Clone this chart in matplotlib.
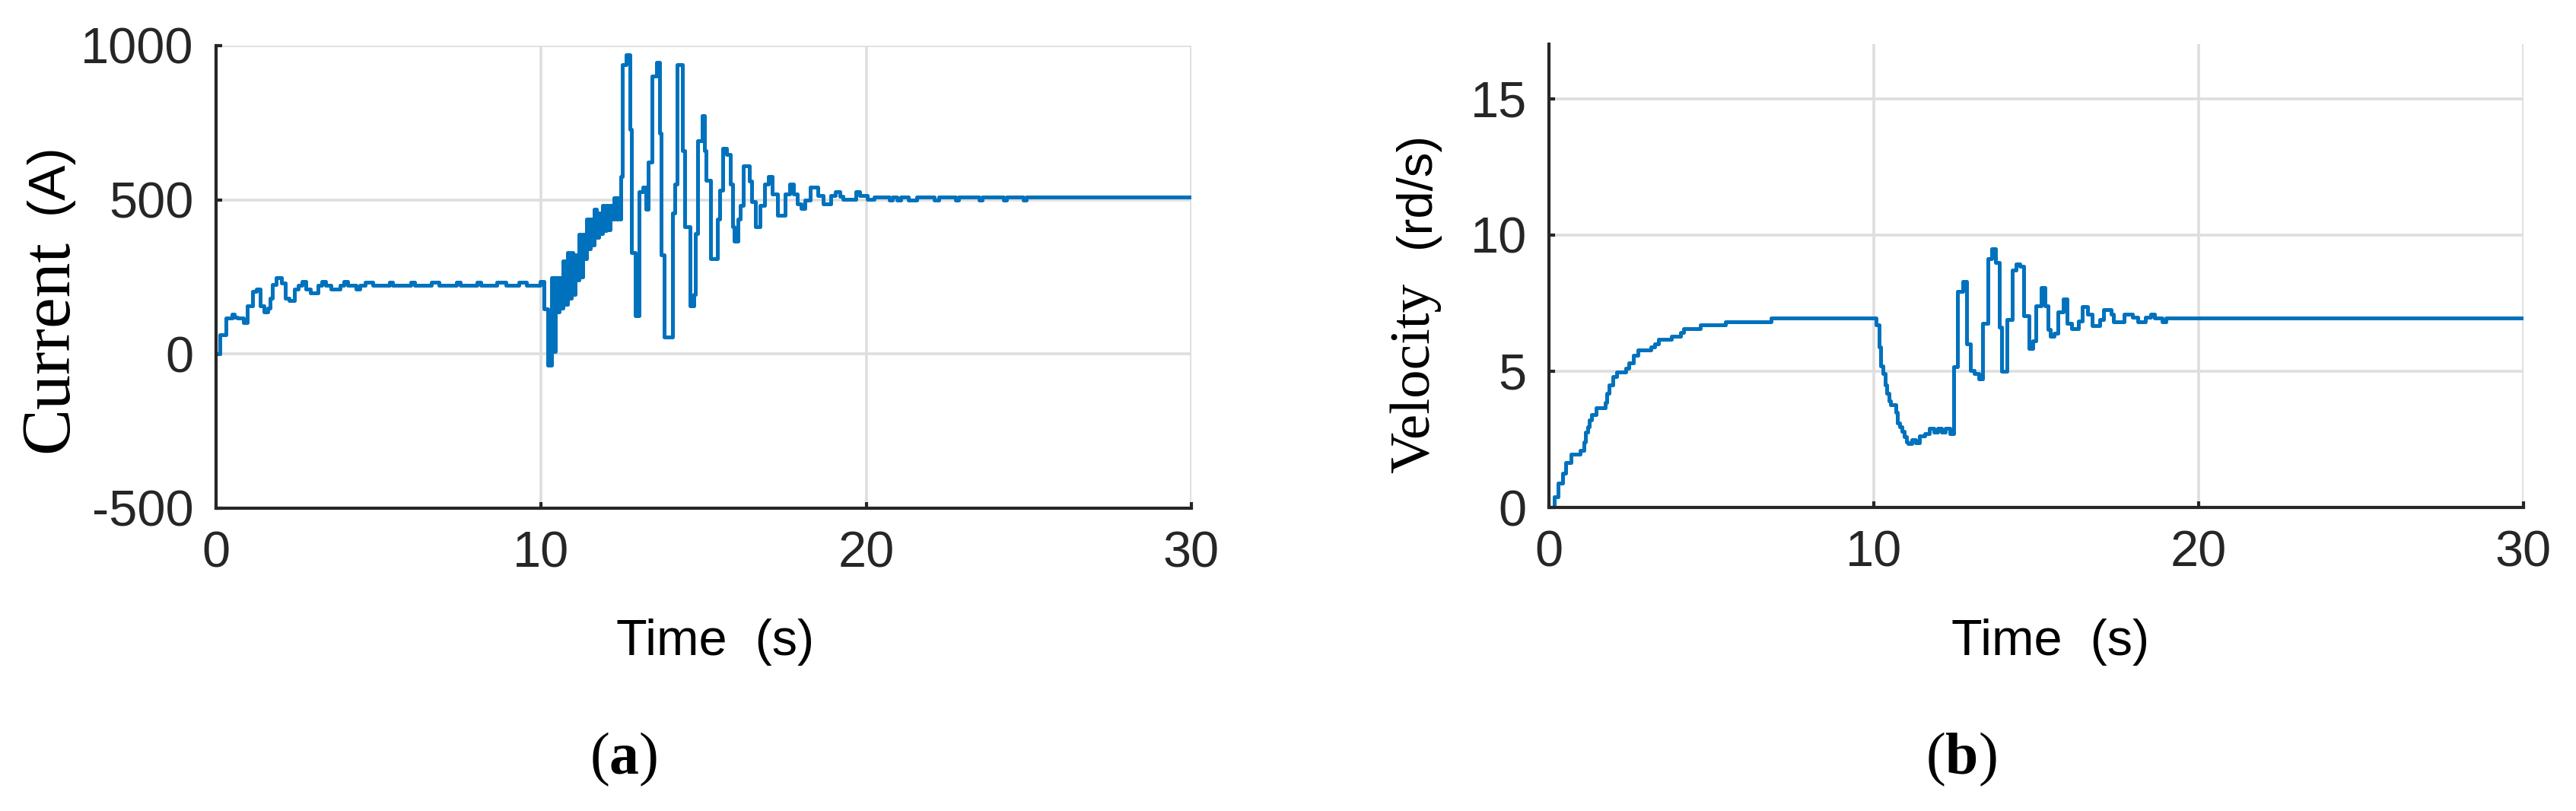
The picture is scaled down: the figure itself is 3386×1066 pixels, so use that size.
import matplotlib
matplotlib.use('Agg')
import matplotlib.pyplot as plt

# ---------------- data ----------------
cur_t = [0.00, 0.12, 0.30, 0.49, 0.57, 0.65, 0.84, 0.96, 1.12, 1.23, 1.35, 1.47, 1.58, 1.66,
         1.74, 1.86, 2.01, 2.13, 2.25, 2.40, 2.52, 2.64, 2.75, 2.91, 3.14, 3.26, 3.38, 3.53,
         3.81, 3.92, 4.04, 4.31, 4.43, 4.59, 4.82, 5.33, 5.44, 5.99, 6.11, 6.62, 6.85, 7.39,
         7.51, 8.02, 8.14, 8.64, 8.92, 9.31, 9.54, 9.97, 10.09, 10.20,
         10.32, 10.38, 10.44, 10.50, 10.56, 10.62, 10.68, 10.74, 10.80, 10.86, 10.92, 10.98,
         11.04, 11.10, 11.16, 11.22, 11.28, 11.34, 11.40, 11.46, 11.52, 11.58, 11.64, 11.70,
         11.76, 11.82, 11.88, 11.94, 12.00, 12.06, 12.12, 12.18, 12.24, 12.30, 12.36, 12.42,
         12.46, 12.50, 12.62, 12.74, 12.78, 12.89, 13.01, 13.13, 13.22, 13.29, 13.40, 13.56,
         13.64, 13.68, 13.79, 14.03, 14.10, 14.18, 14.35, 14.42, 14.57, 14.69, 14.75, 14.81,
         14.96, 15.02, 15.08, 15.20, 15.43, 15.50, 15.59, 15.70, 15.82, 15.88, 15.94, 16.05,
         16.13, 16.21, 16.40, 16.48, 16.60, 16.72, 16.87, 16.99, 17.11, 17.26, 17.50, 17.65,
         17.77, 17.89, 18.00, 18.12, 18.28, 18.51, 18.67, 18.90, 19.06, 19.18, 19.29, 19.68,
         19.80, 20.03, 20.25, 20.70, 20.80, 20.95, 21.05, 21.30, 21.55, 22.10, 22.22, 22.74,
         22.84, 23.47, 23.57, 24.22, 24.32, 24.82, 24.92, 30.00]
cur_i = [0, 62, 116, 128, 120, 116, 103, 156, 202, 210, 156, 136, 150, 181,
         226, 247, 230, 181, 173, 210, 222, 234, 210, 198, 222, 234, 222, 210,
         222, 234, 222, 210, 222, 233, 222, 233, 222, 233, 222, 233, 222, 233,
         222, 233, 222, 233, 222, 233, 222, 235, 146, -36,
         247, 9, 247, 136, 247, 150, 301, 161, 330, 182, 330, 194,
         322, 239, 387, 250, 387, 309, 437, 342, 437, 354, 470, 379,
         457, 390, 482, 400, 482, 404, 482, 437, 506, 437, 506, 437,
         576, 938, 971, 729, 330, 124, 527, 540, 470, 622, 901, 946,
         716, 322, 54, 457, 552, 938, 659, 412, 157, 194, 391, 692,
         774, 659, 564, 309, 437, 531, 667, 646, 552, 412, 367, 437,
         482, 609, 560, 494, 412, 482, 552, 576, 519, 450, 519, 552,
         519, 486, 472, 498, 540, 515, 486, 515, 527, 511, 501, 527,
         515, 501, 510, 499, 510, 499, 510, 499, 510, 499, 510, 499,
         510, 499, 510, 499, 510, 499, 510, 510]

vel_t = [0.00, 0.17, 0.29, 0.41, 0.52, 0.68, 0.95, 1.07, 1.13, 1.19, 1.25, 1.30, 1.46, 1.73,
         1.79, 1.85, 1.97, 2.08, 2.36, 2.47, 2.59, 2.75, 3.14, 3.26, 3.37, 3.76, 4.04, 4.15,
         4.66, 5.44, 6.85, 10.07, 10.16, 10.22, 10.28, 10.34, 10.40, 10.46, 10.51, 10.67,
         10.73, 10.79, 10.87, 10.94, 11.00, 11.06, 11.18, 11.29, 11.41, 11.57, 11.72, 11.84,
         11.96, 12.08, 12.20, 12.35, 12.47, 12.58, 12.74, 12.86, 12.97, 13.09, 13.24, 13.36,
         13.52, 13.64, 13.75, 13.87, 13.93, 14.11, 14.26, 14.38, 14.50, 14.61, 14.77, 14.89,
         15.00, 15.16, 15.28, 15.36, 15.43, 15.55, 15.67, 15.82, 15.94, 16.10, 16.29, 16.41,
         16.57, 16.72, 16.96, 17.07, 17.31, 17.38, 17.70, 17.97, 18.13, 18.36, 18.52, 18.64,
         18.87, 18.99, 30.00]
vel_w = [0.00, 0.40, 0.90, 1.25, 1.65, 1.95, 2.08, 2.40, 2.75, 2.95, 3.20, 3.40, 3.67, 3.85,
         4.20, 4.50, 4.80, 4.98, 5.11, 5.30, 5.58, 5.77, 5.89, 6.01, 6.16, 6.29, 6.43, 6.56,
         6.69, 6.82, 6.96, 6.71, 5.90, 5.20, 4.90, 4.50, 4.20, 3.90, 3.77, 3.50,
         3.10, 2.95, 2.80, 2.60, 2.40, 2.34, 2.48, 2.38, 2.62, 2.71, 2.90, 2.76,
         2.90, 2.76, 2.90, 2.71, 5.17, 7.92, 8.29, 6.00, 5.03, 4.90, 4.71, 6.76,
         9.13, 9.50, 8.99, 6.62, 4.99, 6.90, 8.71, 8.94, 8.85, 7.03, 5.83, 6.10,
         7.41, 8.06, 7.41, 6.52, 6.29, 6.38, 7.17, 7.64, 6.76, 6.57, 6.85, 7.36,
         7.08, 6.66, 6.90, 7.25, 7.08, 6.82, 7.10, 6.99, 6.82, 6.99, 7.10, 6.96,
         6.82, 6.96, 6.96]

x_ticks = [0, 10, 20, 30]
cur_ticks = [-500, 0, 500, 1000]
vel_ticks = [0, 5, 10, 15]

# ---------------- figure ----------------
plt.rcParams['axes.unicode_minus'] = False
plt.rcParams['mathtext.fontset'] = 'custom'
plt.rcParams['mathtext.rm'] = 'Liberation Serif'
plt.rcParams['mathtext.bf'] = 'Liberation Serif:bold'

W, H = 3387, 1066
fig = plt.figure(figsize=(W / 100, H / 100), dpi=100)
fig.patch.set_facecolor('white')

line_col = '#0072BD'
dark = '#262626'
grid_col = '#dedede'

ax1 = fig.add_axes([284 / W, 1 - 668 / H, (1566 - 284) / W, (668 - 60) / H])
ax2 = fig.add_axes([2036 / W, 1 - 667 / H, (3317 - 2036) / W, (667 - 58) / H])

ax1.step(cur_t, cur_i, where='post', color=line_col, lw=3.6)
ax2.step(vel_t, vel_w, where='post', color=line_col, lw=3.6)

ax1.set_xlim(0, 30)
ax1.set_ylim(-500, 1000)
ax1.set_yticks(cur_ticks)
ax2.set_xlim(0, 30)
ax2.set_ylim(0, 17)
ax2.set_yticks(vel_ticks)

for ax in (ax1, ax2):
    ax.set_xticks(x_ticks)
    ax.grid(True, color=grid_col, lw=2.6)
    ax.set_axisbelow(True)
    for s in ('top', 'right'):
        ax.spines[s].set_visible(False)
    for s in ('left', 'bottom'):
        ax.spines[s].set_color(dark)
        ax.spines[s].set_linewidth(3.0)
    ax.tick_params(direction='in', length=6, width=3, colors=dark,
                   labelsize=48, pad=21)
    for lab in ax.get_xticklabels() + ax.get_yticklabels():
        lab.set_fontfamily('Liberation Sans')
    ax.set_facecolor('white')

# axis labels
fig.text(940 / W, 1 - 861 / H, 'Time  (s)', ha='center', va='baseline',
         fontsize=48, family='Liberation Sans', color='black')
fig.text(2695 / W, 1 - 861 / H, 'Time  (s)', ha='center', va='baseline',
         fontsize=48, family='Liberation Sans', color='black')

fig.text(66 / W, 1 - 455 / H, 'Current', rotation=90, ha='center', va='center',
         fontsize=66, family='Liberation Serif', color='black')
fig.text(64 / W, 1 - 235 / H, '(A)', rotation=90, ha='center', va='center',
         fontsize=50, family='Liberation Sans', color='black')

fig.text(1860 / W, 1 - 497 / H, 'Velocity', rotation=90, ha='center', va='center',
         fontsize=54, family='Liberation Serif', color='black')
fig.text(1862 / W, 1 - 250 / H, '(rd/s)', rotation=90, ha='center', va='center',
         fontsize=47, family='Liberation Sans', color='black')

# panel tags
fig.text(820 / W, 1 - 1017 / H, r'($\mathbf{a}$)', ha='center', va='baseline',
         fontsize=56, family='Liberation Serif', color='black')
fig.text(2578 / W, 1 - 1017 / H, r'($\mathbf{b}$)', ha='center', va='baseline',
         fontsize=56, family='Liberation Serif', color='black')

fig.savefig('out.png', dpi=100, facecolor='white')
